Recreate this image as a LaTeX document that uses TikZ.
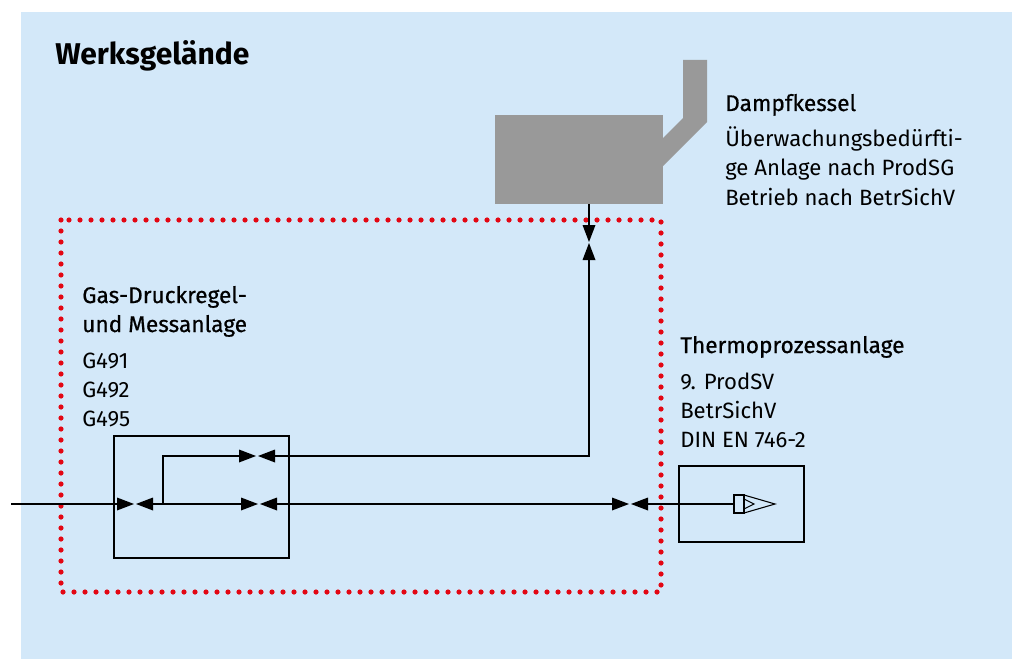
\documentclass[tikz,border=0pt]{standalone}
\usepackage{fontspec}
\setmainfont{Fira Sans}
\newfontfamily\semib[FakeBold=0.6]{Fira Sans}
\definecolor{bgblue}{HTML}{D3E8F9}
\definecolor{boiler}{HTML}{999999}
\definecolor{dotred}{HTML}{E30613}
\tikzset{
  pipe/.style={draw=black,line width=1.5pt},
  boxx/.style={draw=black,line width=1.5pt,fill=none},
  tip/.style={fill=black,draw=none},
  lbl/.style={anchor=base west,inner sep=0pt,font=\fontsize{16.6}{16.6}\selectfont},
  lblb/.style={lbl,font=\fontsize{17}{17}\selectfont\semib},
  dotline/.style={draw=dotred,line width=3.9pt,line cap=round,dash pattern=on 0pt off 8.25pt},
}
\newcommand{\vr}[2]{\fill[tip] (#1-17,#2-6.5) -- (#1,#2) -- (#1-17,#2+6.5) -- cycle;}
\newcommand{\vl}[2]{\fill[tip] (#1+17,#2-6.5) -- (#1,#2) -- (#1+17,#2+6.5) -- cycle;}
\begin{document}
\begin{tikzpicture}[x=0.75pt,y=-0.75pt]
\useasboundingbox (0,0) rectangle (1012,659);
\fill[bgblue] (21,12) rectangle (1012,659);
\fill[boiler] (495,115) rectangle (663,204);
\fill[boiler] (663,138) -- (683,118) -- (683,60) -- (707,60) -- (707,122) -- (663,166) -- cycle;
\node[lbl,font=\fontsize{22.5}{22.5}\selectfont\bfseries] (title) at (55,65) {Werksgelände};
\node[lblb] (d1) at (725,111) {Dampfkessel};
\node[lbl] (d2) at (725,147) {Überwachungsbedürfti-};
\node[lbl] (d3) at (725,176) {ge Anlage nach ProdSG};
\node[lbl] (d4) at (725,205) {Betrieb nach BetrSichV};
\node[lblb] (g1) at (82,303) {Gas-Druckregel-};
\node[lblb] (g2) at (82,332) {und Messanlage};
\node[lbl] (g3) at (82,368) {G491};
\node[lbl] (g4) at (82,397) {G492};
\node[lbl] (g5) at (82,426) {G495};
\node[lblb] (t1) at (680,353) {Thermoprozessanlage};
\node[lbl] (t2) at (680,389) {9. ProdSV};
\node[lbl] (t3) at (680,418) {BetrSichV};
\node[lbl] (t4) at (680,447) {DIN EN 746-2};
\draw[dotline] (61,220) rectangle (661,592);
\draw[boxx] (114,436) rectangle (289,558);
\draw[boxx] (679,466) rectangle (804,542);
\draw[pipe] (11,504) -- (118,504);
\draw[pipe] (150,504) -- (243,504);
\draw[pipe] (163,504) -- (163,456) -- (243,456);
\draw[pipe] (272,456) -- (589,456) -- (589,258);
\draw[pipe] (589,204) -- (589,226);
\draw[pipe] (274,504) -- (614,504);
\draw[pipe] (645,504) -- (734,504);
\vr{134}{504}\vl{136}{504}
\vr{256}{456}\vl{258}{456}
\vr{258}{504}\vl{260}{504}
\vr{629}{504}\vl{631}{504}
\fill[tip] (582.5,225) -- (589,242) -- (595.5,225) -- cycle;
\fill[tip] (582.5,260) -- (589,243) -- (595.5,260) -- cycle;
\draw[black,line width=0.8pt] (734,495) rectangle (744,513);
\draw[black,line width=0.8pt] (744,495) -- (775,504) -- (744,513);
\draw[black,line width=0.8pt] (744,499) -- (754,504) -- (744,509);
\end{tikzpicture}
\end{document}
